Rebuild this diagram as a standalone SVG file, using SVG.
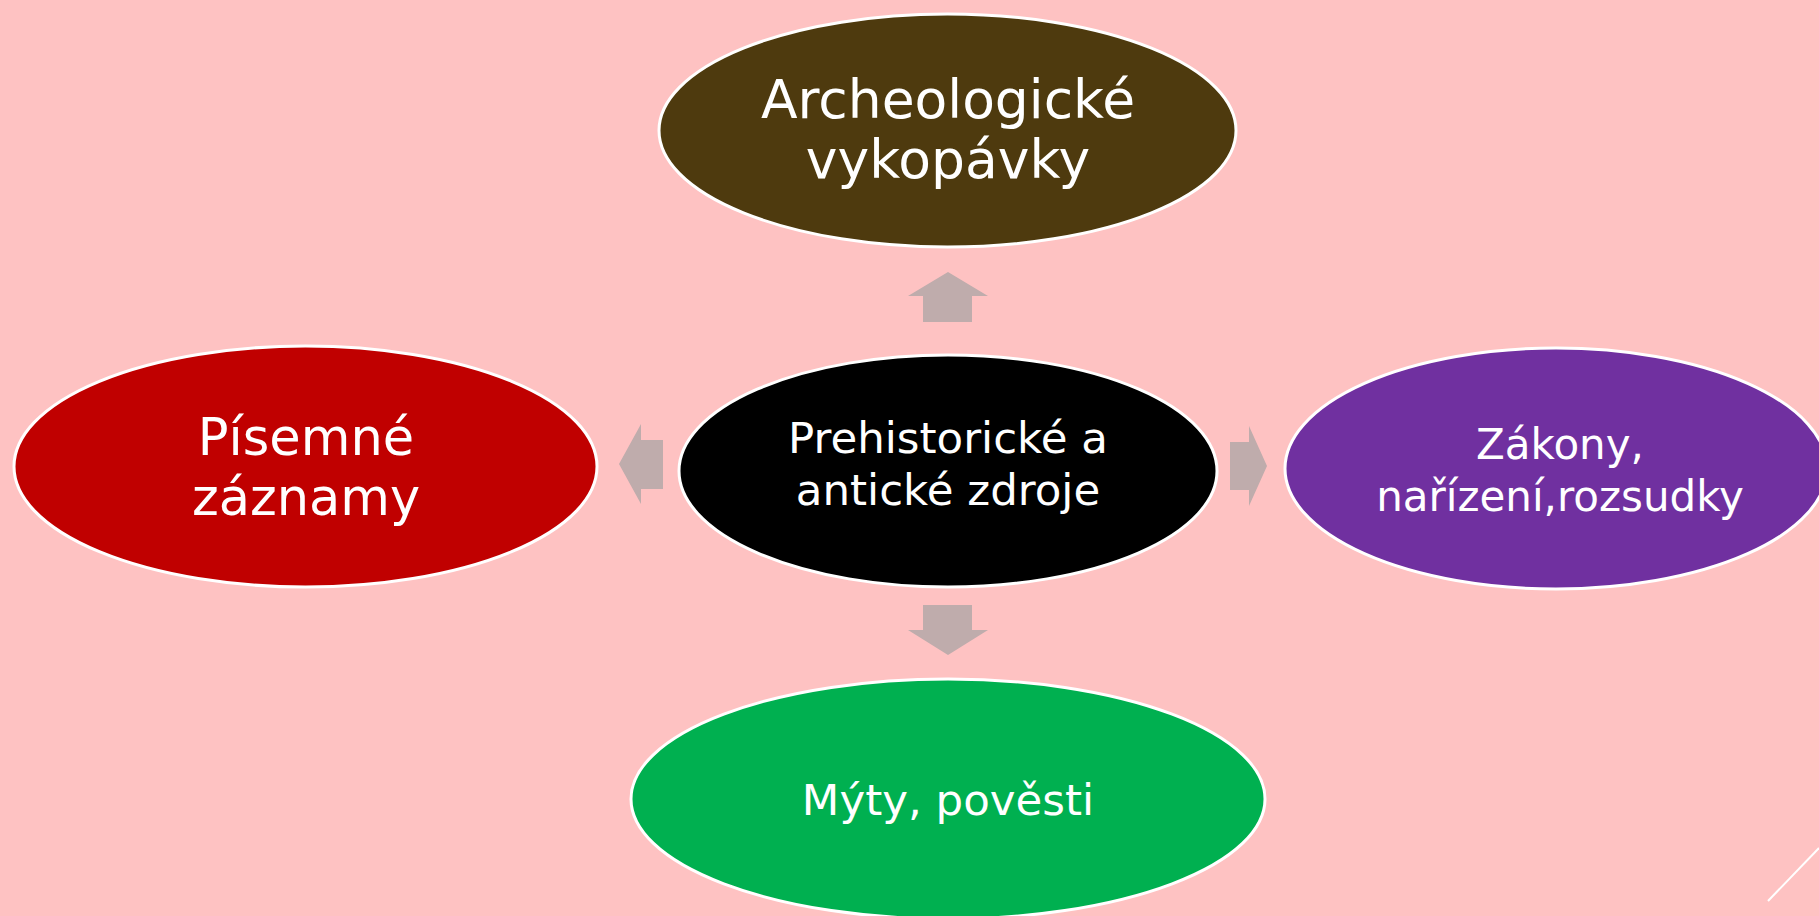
<svg xmlns="http://www.w3.org/2000/svg" width="1819" height="916" viewBox="0 0 1819 916">
<style>
.bg{fill:#fec2c2}
.node ellipse{stroke:#ffffff;stroke-width:3}
.node text{fill:#ffffff;font-family:"DejaVu Sans","Liberation Sans",sans-serif;text-anchor:middle;dominant-baseline:central}
.arrow{fill:#bfacac}
</style>
<rect class="bg" x="0" y="0" width="1819" height="916"/>
<g id="connectors">
<polygon class="arrow" points="948,272 988,296 972,296 972,322 923,322 923,296 908,296"/>
<polygon class="arrow" points="948,655 988,630 972,630 972,605 923,605 923,630 908,630"/>
<polygon class="arrow" points="619,464 641,424 641,440 663,440 663,489 641,489 641,504"/>
<polygon class="arrow" points="1267,466 1249,426 1249,442 1230,442 1230,490 1249,490 1249,506"/>
</g>
<g id="node-top" class="node">
<ellipse cx="947.5" cy="130.5" rx="288.5" ry="116.5" fill="#4e3a0e"/>
<text x="948" y="99" font-size="53.5">Archeologické</text>
<text x="948" y="159" font-size="53.5">vykopávky</text>
</g>
<g id="node-left" class="node">
<ellipse cx="305.5" cy="466.5" rx="291.5" ry="120.5" fill="#c00000"/>
<text x="306" y="437" font-size="51">Písemné</text>
<text x="306" y="497" font-size="51">záznamy</text>
</g>
<g id="node-right" class="node">
<ellipse cx="1556" cy="468.5" rx="271" ry="120.5" fill="#7030a0"/>
<text x="1560" y="444" font-size="42">Zákony,</text>
<text x="1560" y="496" font-size="42">nařízení,rozsudky</text>
</g>
<g id="node-bottom" class="node">
<ellipse cx="948" cy="799" rx="317" ry="120" fill="#00b050"/>
<text x="948" y="800" font-size="43.5">Mýty, pověsti</text>
</g>
<g id="node-center" class="node">
<ellipse cx="948" cy="471" rx="269" ry="116" fill="#000000"/>
<text x="948" y="438" font-size="43.5">Prehistorické a</text>
<text x="948" y="490" font-size="43.5">antické zdroje</text>
</g>
<line x1="1768" y1="901" x2="1819" y2="848" stroke="#ffffff" stroke-width="2"/>
</svg>
